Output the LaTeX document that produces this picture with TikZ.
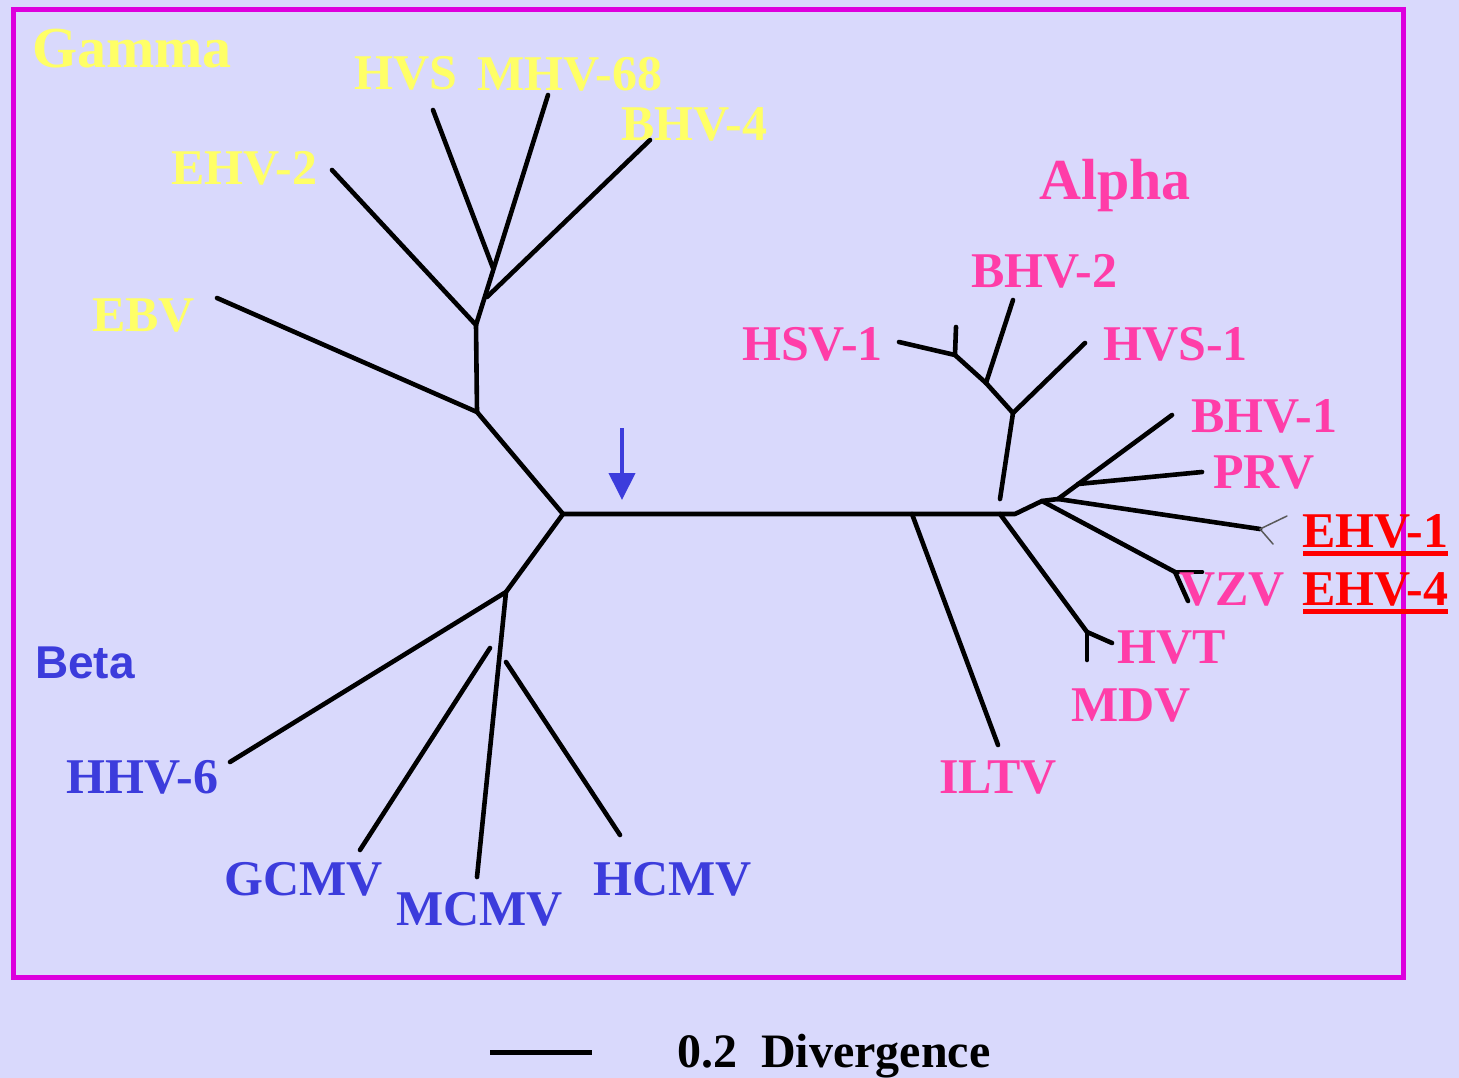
\documentclass[tikz,border=0pt]{standalone}
\usepackage{fontspec}
\setmainfont{Liberation Serif}
\setsansfont{Liberation Sans}
\usetikzlibrary{arrows.meta}
\definecolor{bgc}{RGB}{217,217,252}
\definecolor{framec}{RGB}{221,0,221}
\definecolor{gamc}{RGB}{255,255,102}
\definecolor{alpc}{RGB}{255,61,168}
\definecolor{betc}{RGB}{60,60,220}
\definecolor{ehvc}{RGB}{255,0,0}
\begin{document}
\begin{tikzpicture}[x=1pt,y=-1pt,
  tree/.style={line width=4.6pt, line cap=round, line join=round, black},
  twig/.style={line width=1.5pt, line cap=round, gray!70!black},
  lab/.style={anchor=base west, inner sep=0pt, font=\bfseries\fontsize{50}{52}\selectfont},
  big/.style={anchor=base west, inner sep=0pt, font=\bfseries\fontsize{58}{60}\selectfont},
  under/.style={line width=5pt, ehvc}]
\fill[bgc] (0,0) rectangle (1459,1078);
\useasboundingbox (0,0) rectangle (1459,1078);
\draw[framec, line width=5pt] (13,10) rectangle (1403,977);

% coordinates of the tree
\coordinate (r) at (563,514);
\coordinate (a) at (1015,514);
\coordinate (k1) at (1042,501);
\coordinate (fan) at (1058,499);
\coordinate (bhv1e) at (1172,415);
\coordinate (prvb) at (1078,484);
\coordinate (prve) at (1202,472);
\coordinate (ehv1n) at (1260,529);
\coordinate (ehv1t1) at (1287,516);
\coordinate (ehv1t2) at (1273,544);
\coordinate (vzvn) at (1175,572);
\coordinate (vzvt1) at (1202,572);
\coordinate (vzvt2) at (1188,601);
\coordinate (hvtb) at (1000,514);
\coordinate (hvtn) at (1087,632);
\coordinate (hvtt1) at (1112,643);
\coordinate (hvtt2) at (1087,660);
\coordinate (iltvb) at (912,514);
\coordinate (iltve) at (998,745);
\coordinate (ub) at (1000,499);
\coordinate (un) at (1013,413);
\coordinate (hvs1e) at (1085,343);
\coordinate (bn) at (986,383);
\coordinate (hn) at (955,355);
\coordinate (bhv2e) at (1013,300);
\coordinate (hsv1e) at (899,342);
\coordinate (hsvt) at (956,327);
\coordinate (gn) at (477,412);
\coordinate (ebve) at (217,298);
\coordinate (g2) at (476,325);
\coordinate (ehv2e) at (332,170);
\coordinate (mhve) at (548,95);
\coordinate (hvsb) at (493,268);
\coordinate (hvse) at (433,110);
\coordinate (bhv4b) at (487,297);
\coordinate (bhv4e) at (650,140);
\coordinate (bn1) at (506,592);
\coordinate (hhv6e) at (230,762);
\coordinate (mcmve) at (477,877);
\coordinate (gcmvb) at (490,648);
\coordinate (gcmve) at (360,850);
\coordinate (hcmvb) at (506,662);
\coordinate (hcmve) at (620,835);
\coordinate (arrtop) at (622,428);
\coordinate (arrtip) at (622,500);
\coordinate (sb1) at (490,1052);
\coordinate (sb2) at (592,1052);

% alpha
\draw[tree] (r) -- (a) -- (k1) -- (fan);
\draw[tree] (fan) -- (bhv1e);
\draw[tree] (prvb) -- (prve);
\draw[tree] (fan) -- (ehv1n);
\draw[twig] (ehv1n) -- (ehv1t1);
\draw[twig] (ehv1n) -- (ehv1t2);
\draw[tree] (k1) -- (vzvn);
\draw[tree] (vzvn) -- (vzvt1);
\draw[tree] (vzvn) -- (vzvt2);
\draw[tree] (hvtb) -- (hvtn);
\draw[tree] (hvtn) -- (hvtt1);
\draw[tree] (hvtn) -- (hvtt2);
\draw[tree] (iltvb) -- (iltve);
\draw[tree] (ub) -- (un) -- (hvs1e);
\draw[tree] (un) -- (bn) -- (hn);
\draw[tree] (bn) -- (bhv2e);
\draw[tree] (hn) -- (hsv1e);
\draw[tree] (hn) -- (hsvt);
% gamma
\draw[tree] (r) -- (gn) -- (ebve);
\draw[tree] (gn) -- (g2) -- (ehv2e);
\draw[tree] (g2) -- (mhve);
\draw[tree] (hvsb) -- (hvse);
\draw[tree] (bhv4b) -- (bhv4e);
% beta
\draw[tree] (r) -- (bn1) -- (hhv6e);
\draw[tree] (bn1) -- (mcmve);
\draw[tree] (gcmvb) -- (gcmve);
\draw[tree] (hcmvb) -- (hcmve);

% arrow
\draw[betc, line width=4pt, -{Triangle[width=26pt,length=27pt]}] (arrtop) -- (arrtip);

% labels: gamma
\node[big, text=gamc] (gamma) at (32,68) {Gamma};
\node[lab, text=gamc] (hvs) at (354,90) {HVS};
\node[lab, text=gamc] (mhv68) at (477,91) {MHV-68};
\node[lab, text=gamc] (bhv4) at (621,141) {BHV-4};
\node[lab, text=gamc] (ehv2) at (171,185) {EHV-2};
\node[lab, text=gamc] (ebv) at (92,331) {EBV};
% labels: alpha
\node[big, text=alpc] (alpha) at (1039,200) {Alpha};
\node[lab, text=alpc] (bhv2) at (971,287) {BHV-2};
\node[lab, text=alpc] (hsv1) at (742,360) {HSV-1};
\node[lab, text=alpc] (hvs1) at (1103,360) {HVS-1};
\node[lab, text=alpc] (bhv1) at (1191,432) {BHV-1};
\node[lab, text=alpc] (prv) at (1213,488) {PRV};
\node[lab, text=ehvc] (ehv1) at (1302,547) {EHV-1};
\node[lab, text=alpc] (vzv) at (1179,605) {VZV};
\node[lab, text=ehvc] (ehv4) at (1302,605) {EHV-4};
\node[lab, text=alpc] (hvt) at (1117,663) {HVT};
\node[lab, text=alpc] (mdv) at (1071,721) {MDV};
\node[lab, text=alpc] (iltv) at (939,793) {ILTV};
\draw[under] (1303,553) -- (1448,553);
\draw[under] (1303,611) -- (1448,611);
% labels: beta
\node[anchor=base west, inner sep=0pt, text=betc, font=\sffamily\bfseries\fontsize{46}{48}\selectfont] (beta) at (35,678) {Beta};
\node[lab, text=betc] (hhv6) at (66,793) {HHV-6};
\node[lab, text=betc] (gcmv) at (224,895) {GCMV};
\node[lab, text=betc] (mcmv) at (396,925) {MCMV};
\node[lab, text=betc] (hcmv) at (593,895) {HCMV};

% scale bar
\draw[line width=5pt] (sb1) -- (sb2);
\node[anchor=base west, inner sep=0pt, font=\bfseries\fontsize{48}{50}\selectfont, text=black] (div) at (677,1067) {0.2\ \ Divergence};
\end{tikzpicture}
\end{document}
